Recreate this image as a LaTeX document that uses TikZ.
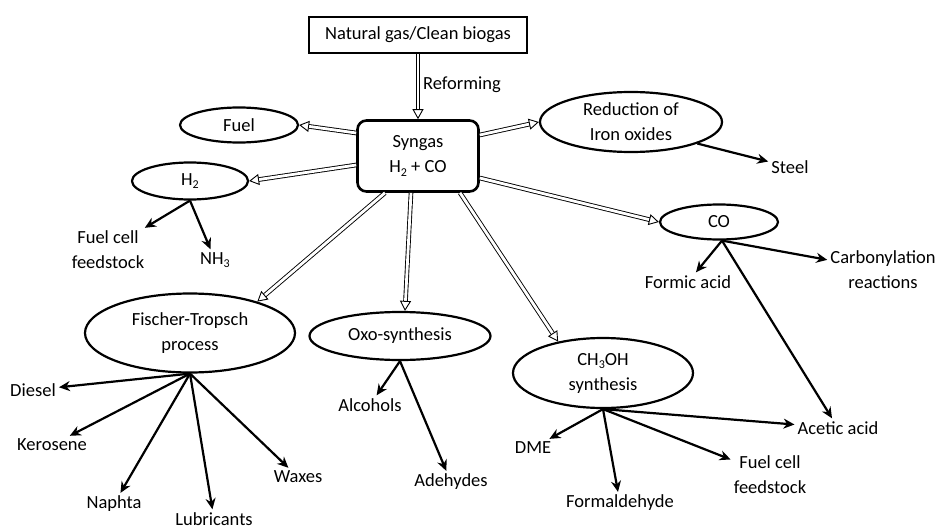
\documentclass[tikz,border=0pt]{standalone}
\usepackage{fontspec}
\setmainfont{Carlito}
\usetikzlibrary{shapes.geometric,arrows.meta,calc}
\newcommand{\mysub}[1]{\raisebox{-0.35ex}{\fontsize{12}{12}\selectfont #1}}
\begin{document}
\begin{tikzpicture}[x=1pt,y=-1pt,
  every node/.style={font=\fontsize{18.5}{25}\selectfont, inner sep=2pt},
  ell/.style={ellipse, draw, line width=2.2pt, inner sep=0pt, align=center},
  lbl/.style={align=center, inner sep=3pt},
  dbl/.style={line width=0.9pt, double=white, double distance=2.8pt, -{Triangle[open,length=10pt,width=11pt]}},
  blk/.style={line width=2.2pt, -{Stealth[length=11pt,width=10pt]}}]
\useasboundingbox (0,0) rectangle (940,530);
% main nodes
\node[draw, line width=2.6pt, minimum width=218pt, minimum height=36pt] (ng) at (418,35) {Natural gas/Clean biogas};
\node[draw, line width=2.6pt, rounded corners=9pt, minimum width=121pt, minimum height=71pt, align=center] (syn) at (418,156) {Syngas\\H\mysub{2} + CO};
\node[ell, minimum width=118pt, minimum height=35pt] (fuel) at (239,125) {Fuel};
\node[ell, minimum width=116pt, minimum height=37pt] (h2) at (190,181) {H\mysub{2}};
\node[ell, minimum width=182pt, minimum height=60pt] (red) at (631,122) {Reduction of\\Iron oxides};
\node[ell, minimum width=118pt, minimum height=35pt] (co) at (719,222) {CO};
\node[ell, minimum width=210pt, minimum height=79pt] (ft) at (190,333) {Fischer-Tropsch\\process};
\node[ell, minimum width=181pt, minimum height=48pt] (oxo) at (400,336) {Oxo-synthesis};
\node[ell, minimum width=180pt, minimum height=70pt] (ch) at (603,373) {CH\mysub{3}OH\\synthesis};
% labels
\node[lbl] (ref) at (462,85) {Reforming};
\node[lbl] (steel) at (790,167) {Steel};
\node[lbl] (formic) at (688,282) {Formic acid};
\node[lbl] (carb) at (883,270) {Carbonylation\\reactions};
\node[lbl] (acetic) at (838,428) {Acetic acid};
\node[lbl] (fc1) at (108,250) {Fuel cell\\feedstock};
\node[lbl] (nh3) at (215,260) {NH\mysub{3}};
\node[lbl] (diesel) at (33,390) {Diesel};
\node[lbl] (kero) at (52,445) {Kerosene};
\node[lbl] (naph) at (114,504) {Naphta};
\node[lbl] (lub) at (214,519) {Lubricants};
\node[lbl] (wax) at (298,477) {Waxes};
\node[lbl] (alc) at (370,405) {Alcohols};
\node[lbl] (ade) at (451,482) {Adehydes};
\node[lbl] (dme) at (533,448) {DME};
\node[lbl] (form) at (620,503) {Formaldehyde};
\node[lbl] (fc2) at (770,475) {Fuel cell\\feedstock};
% double arrows
\draw[dbl] (ng.south) -- (syn.north);
\draw[dbl] ([yshift=23pt]syn.west) -- (fuel.east);
\draw[dbl] ([yshift=-9pt]syn.west) -- (h2.east);
\draw[dbl] ([yshift=21pt]syn.east) -- (red.west);
\draw[dbl] ([yshift=-22pt]syn.east) -- (co.west);
\draw[dbl] ([xshift=-33pt]syn.south) -- (ft.25);
\draw[dbl] ([xshift=-7pt]syn.south) -- ([xshift=5pt]oxo.north);
\draw[dbl] ([xshift=42pt]syn.south) -- (ch.145);
% black arrows
\draw[blk] (red.-18) -- (steel);
\draw[blk] ([xshift=3pt]co.south) -- (formic);
\draw[blk] ([xshift=3pt]co.south) -- (carb);
\draw[blk] ([xshift=3pt]co.south) -- (acetic);
\draw[blk] (h2.south) -- (fc1);
\draw[blk] (h2.south) -- (nh3);
\draw[blk] (ft.south) -- (diesel);
\draw[blk] (ft.south) -- (kero);
\draw[blk] (ft.south) -- (naph);
\draw[blk] (ft.south) -- (lub);
\draw[blk] (ft.south) -- (wax);
\draw[blk] (oxo.south) -- (alc);
\draw[blk] (oxo.south) -- (ade);
\draw[blk] (ch.south) -- (dme);
\draw[blk] (ch.south) -- (form);
\draw[blk] (ch.south) -- (fc2);
\draw[blk] (ch.south) -- (acetic);
\end{tikzpicture}
\end{document}
